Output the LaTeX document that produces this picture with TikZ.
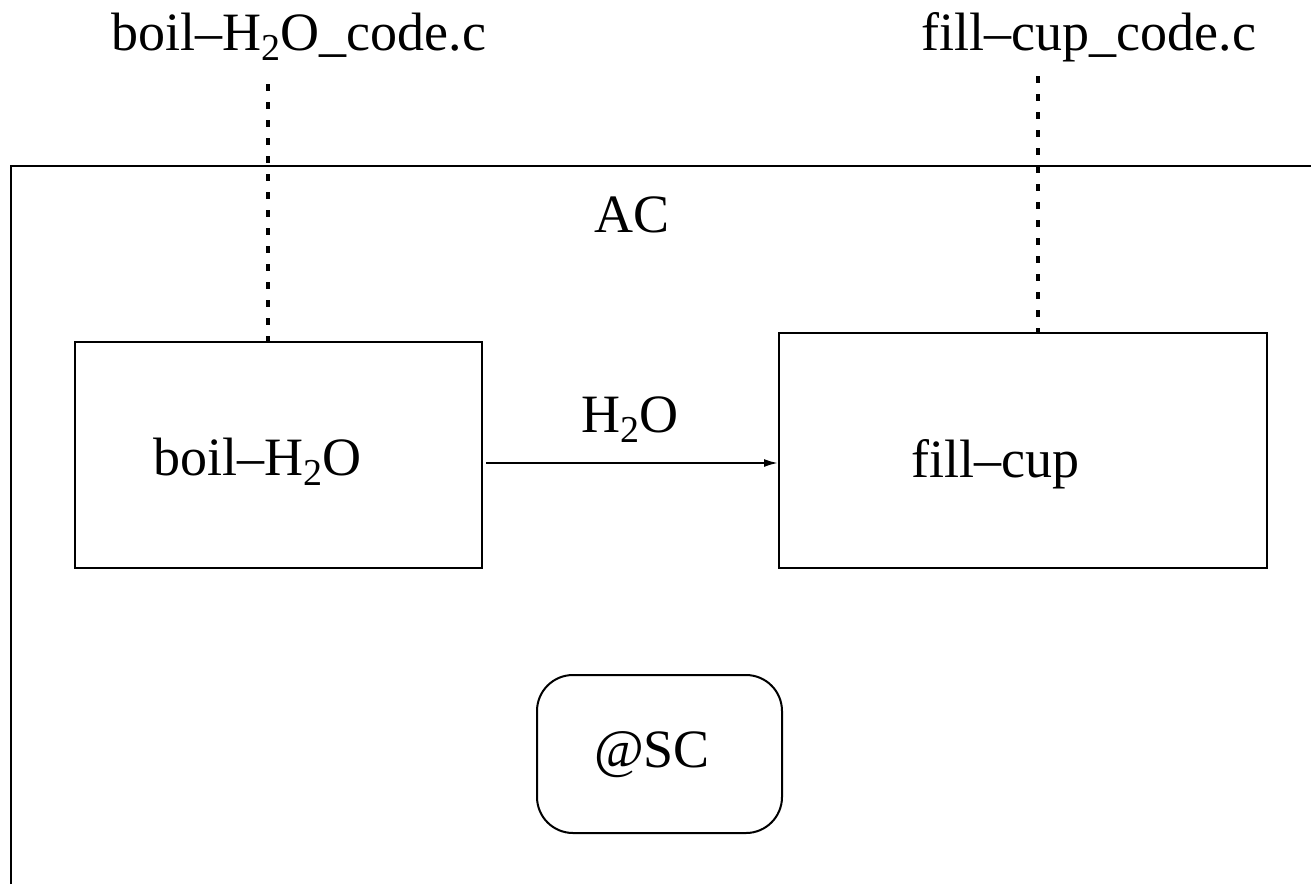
\documentclass[tikz,border=0pt]{standalone}
\usepackage{fontspec}
\setmainfont{Liberation Serif}
\usetikzlibrary{arrows.meta}
\newcommand\lowtwo{\raisebox{-0.2em}{\fontsize{19}{19}\selectfont 2}}
\begin{document}
\begin{tikzpicture}[x=0.5pt,y=-0.5pt,
  lbl/.style={anchor=base,inner sep=0pt,font=\fontsize{27}{32}\selectfont},
  blk/.style={draw,line width=1pt,rectangle,inner sep=0pt},
  link/.style={line width=1.6pt,dash pattern=on 3.5pt off 5.5pt},
  flow/.style={line width=1pt,-{Latex[length=7pt,width=4pt]}}]
\useasboundingbox (0,0) rectangle (1311,884);
\fill[white] (0,0) rectangle (1311,884);
% outer frame
\coordinate (fbl) at (11,884);
\coordinate (ftl) at (11,166);
\coordinate (ftr) at (1311,166);
\draw[line width=1.2pt] (fbl) -- (ftl) -- (ftr);
% boxes
\node[blk,minimum width=203.5pt,minimum height=113pt] (boil) at (278.5,455) {};
\node[blk,minimum width=244pt,minimum height=117.5pt] (fill) at (1023,450.5) {};
\node[blk,rounded corners=18pt,minimum width=122.5pt,minimum height=79pt] (sc) at (659.5,754) {};
% labels
\node[lbl] (boiltxt) at (257,475) {boil–H\lowtwo O};
\node[lbl] (filltxt) at (995,477) {fill–cup};
\node[lbl] (sctxt) at (652,767) {@SC};
\node[lbl] (ac) at (632,232) {AC};
\node[lbl] (water) at (630,432) {H\lowtwo O};
\node[lbl] (boilcode) at (299,50) {boil–H\lowtwo O\_code.c};
\node[lbl] (fillcode) at (1089,50) {fill–cup\_code.c};
% dotted links
\coordinate (bc) at (268,84);
\coordinate (fc) at (1038,76);
\draw[link] (bc) -- (bc |- boil.north);
\draw[link] (fc) -- (fc |- fill.north);
% flow arrow
\coordinate (ay) at (0,463);
\draw[flow] (boil.east |- ay) ++(3,0) -- (fill.west |- ay);
\end{tikzpicture}
\end{document}
